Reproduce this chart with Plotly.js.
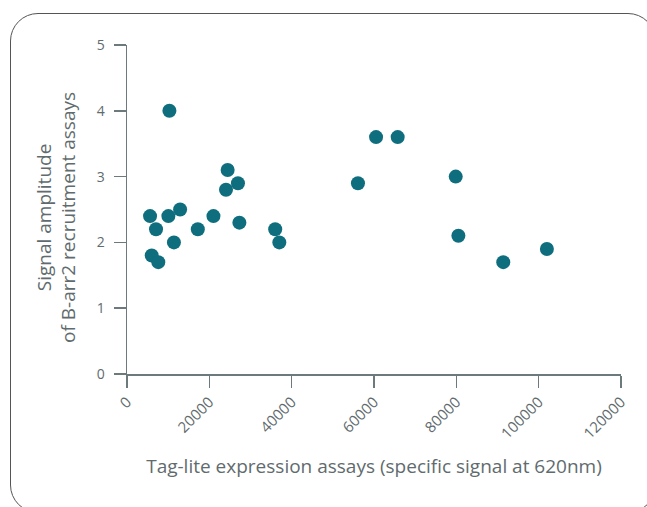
<!DOCTYPE html>
<html>
<head>
<meta charset="utf-8">
<script src="https://cdn.plot.ly/plotly-3.0.1.min.js"></script>
<style>
html,body{margin:0;padding:0;overflow:hidden;background:#fff;width:647px;height:507px;}
#frame{position:absolute;left:10px;top:13px;width:646px;height:500px;border:1.3px solid #555;border-radius:28px;box-sizing:border-box;pointer-events:none;z-index:2;}
#chart{position:absolute;left:0;top:0;width:647px;height:507px;}
</style>
</head>
<body>
<div id="chart"></div>
<div id="frame"></div>
<script>
const expressionSignal = [10300, 5600, 7050, 10050, 12900, 11400, 6000, 7600, 17200, 21000, 24450, 24050, 26950, 27300, 36000, 37000, 60500, 65750, 56100, 79850, 80500, 91400, 102000];
const signalAmplitude = [4.0, 2.4, 2.2, 2.4, 2.5, 2.0, 1.8, 1.7, 2.2, 2.4, 3.1, 2.8, 2.9, 2.3, 2.2, 2.0, 3.6, 3.6, 2.9, 3.0, 2.1, 1.7, 1.9];
const xTicks = [0, 20000, 40000, 60000, 80000, 100000, 120000];
const yTicks = [0, 1, 2, 3, 4, 5];
const yTitleLines = ['Signal amplitude', 'of B-arr2 recruitment assays'];

const textColor = '#5f6b6e';
const axisColor = '#6d7a7d';

const trace = {
  x: expressionSignal,
  y: signalAmplitude,
  type: 'scatter',
  mode: 'markers',
  marker: {color: '#0e6e7e', size: 14, line: {width: 0}},
  hoverinfo: 'x+y'
};

const layout = {
  width: 647,
  height: 507,
  margin: {l: 127, r: 26, t: 45, b: 133},
  paper_bgcolor: '#fff',
  plot_bgcolor: '#fff',
  showlegend: false,
  font: {family: 'Open Sans, Noto Sans, sans-serif', color: textColor, size: 14},
  xaxis: {
    range: [0, 120000],
    tickvals: xTicks,
    ticktext: xTicks.map(String),
    tickangle: -45,
    ticks: 'outside',
    ticklen: 12,
    tickwidth: 1.5,
    tickcolor: axisColor,
    showline: true,
    linecolor: axisColor,
    linewidth: 1.5,
    showgrid: false,
    zeroline: false,
    automargin: false,
    tickfont: {size: 15, color: textColor},
    title: {text: 'Tag-lite expression assays (specific signal at 620nm)', font: {size: 19, color: textColor}, standoff: 18}
  },
  yaxis: {
    range: [0, 5],
    tickvals: yTicks,
    ticks: 'outside',
    ticklen: 12,
    tickwidth: 1.5,
    tickcolor: axisColor,
    showline: true,
    linecolor: axisColor,
    linewidth: 1.5,
    showgrid: false,
    zeroline: false,
    automargin: false,
    ticklabelstandoff: 6,
    tickfont: {size: 14, color: textColor}
  },
  annotations: [{
    text: yTitleLines.join('<br>'),
    xref: 'paper', yref: 'paper',
    x: -0.144, y: 0.477,
    xanchor: 'center', yanchor: 'middle',
    textangle: -90,
    showarrow: false,
    font: {size: 19, color: textColor}
  }]
};

Plotly.newPlot('chart', [trace], layout, {displayModeBar: false, staticPlot: true});
</script>
</body>
</html>
